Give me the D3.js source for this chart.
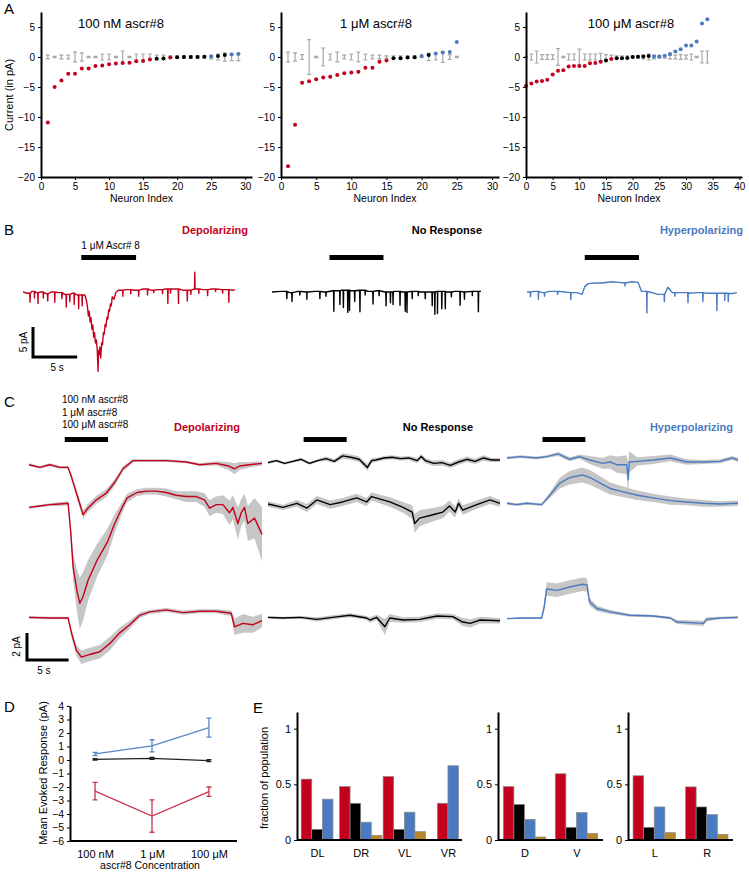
<!DOCTYPE html>
<html>
<head>
<meta charset="utf-8">
<script src="https://cdn.jsdelivr.net/npm/d3@7"></script>
<style>
  body { margin: 0; background: #fff; }
  svg { display: block; font-family: "Liberation Sans", Arial, sans-serif; }
</style>
</head>
<body>
<svg id="fig" width="749" height="873"></svg>
<script>
// ---- Panel A: sorted responses per neuron (d = depolarizing, n = none, h = hyperpolarizing)
const a1Vals = [-10.9,-5.0,-3.9,-2.8,-2.8,-1.9,-1.9,-1.5,-1.4,-1.2,-1.1,-1.0,-0.95,-0.7,-0.65,-0.4,-0.3,-0.25,-0.1,-0.05,0,0,0,0.05,0.1,0.15,0.35,0.4,0.5];
const a1Cls  = "ddddddddddddddddnndnnnnnhnnhh".split("");
const a1Err  = [0.3,0.1,0.3,0.3,0.8,0.7,0.1,0.1,0.5,0.5,0.1,1.0,0.1,0.5,0.5,0.5,0.3,0.3,0.2,0.2,0.2,0.2,0.2,0.2,0.3,0.5,0.7,0.6,0.6];

const a2Vals = [-18.2,-11.3,-4.3,-4.05,-3.7,-3.4,-3.3,-3.0,-2.7,-2.6,-2.45,-1.8,-1.8,-0.8,-0.6,-0.2,-0.2,-0.1,-0.05,0.15,0.35,0.6,0.75,0.85,2.5];
const a2Cls  = "dddddddddddddddnnnnhnhhhh".split("");
const a2Err  = [0.8,0.7,0.4,2.9,0.1,1.5,0.5,0.8,0.3,0.5,0.8,0.5,0.3,0.3,0.2,0.2,0.2,0.2,0.2,0.1,0.6,0.5,0.9,0.4,0.1];

const a3Vals = [-4.8,-4.4,-4.1,-4.0,-3.8,-2.9,-2.3,-2.2,-1.6,-1.5,-1.5,-1.5,-1.05,-1.0,-0.8,-0.6,-0.35,-0.2,-0.2,-0.15,0,0.05,0.1,0.15,0.1,0.1,0.2,0.5,0.9,1.3,1.9,1.9,2.6,5.6,6.3];
const a3Cls  = "dddddddddddddddndnnnnnnnhhhhhhhhhhh".split("");
const a3Err  = [0.1,0.5,1.0,0.4,0.4,0.4,1.4,0.1,0.5,0.5,1.3,0.5,0.5,0.5,0.6,0.4,0.3,0.2,0.2,0.2,0.2,0.2,0.3,0.5,0.3,0.2,0.2,0.3,0.3,0.4,0.3,0.5,0.1,1.0,1.0];

const aTitles = ["100 nM ascr#8", "1 μM ascr#8", "100 μM ascr#8"];
const aYTicks = [5, 0, -5, -10, -15, -20];

// ---- Panel B: example recordings, [time s, current pA]; spikes are [time, offset from baseline]
const bRedBase = [[0,0],[0.5,-0.2],[1.0,0.1],[1.5,-0.1],[2.0,0],[2.6,-0.3],[3.2,0],[4.0,-0.1],[4.7,-0.4],[5.6,-0.2],[6.1,-0.5],[7.0,-0.5],
  [7.2,-1.5],[7.3,-2.5],[7.4,-4.0],[7.5,-3.2],[7.6,-5.0],[7.7,-4.3],[7.8,-6.2],[7.9,-5.5],[8.0,-7.5],[8.1,-6.8],[8.2,-8.5],[8.3,-8.0],
  [8.4,-9.5],[8.5,-13.2],[8.55,-9.8],[8.6,-10.5],[8.7,-9.2],[8.8,-11.0],[8.9,-8.5],[9.0,-8.8],[9.1,-6.8],[9.2,-7.0],[9.3,-5.4],[9.4,-5.8],
  [9.5,-4.2],[9.6,-4.5],[9.7,-3.0],[9.8,-3.2],[9.9,-2.0],[10.0,-2.3],[10.1,-0.8],[10.3,-1.2],[10.5,-0.1],[10.8,0.3],[11.7,0.4],[12.6,0.3],
  [13.6,0.5],[14.5,0.3],[15.3,0.4],[16.1,0.5],[17.2,0.5],[18.1,0.3],[19.4,0.5],[20.4,0.4],[21.4,0.5],[22.5,0.4],[23.7,0.3],[24,0.35]];
const bRedSpikes = [[0.8,-1.5],[1.3,-1.1],[1.7,-1.8],[2.3,-1.0],[2.8,-1.2],[3.6,-1.7],[4.4,-1.0],[4.9,-2.1],[5.3,-1.2],[5.8,-1.9],[6.3,-2.3],[6.7,-1.8],
  [11.3,-1.0],[12.2,-0.7],[13.1,-1.0],[14.1,-1.0],[14.8,-0.4],[15.8,-0.7],[16.4,-2.4],[16.7,-0.7],[17.6,-2.4],[18.6,-1.8],[19.0,-0.7],
  [19.45,2.8],[19.9,-0.7],[20.9,-1.0],[21.8,-0.4],[22.6,-0.6],[23.3,-2.1]];

const bBlackBase = [[0,0],[1,0.1],[2,-0.1],[3,0.1],[4,0],[5,0.1],[6,0],[7,0.2],[8,0.3],[9,0.2],[10,0.3],[11,0.1],[12,0.2],[13,0],
  [14,0.1],[15,0],[16,0.1],[17,0],[18,0],[19,0.1],[20,0],[21,0.1],[22,0],[23,0.1],[24,0.1]];
const bBlackSpikes = [[1.7,-1.2],[2.3,-1.5],[3.2,-0.6],[4.0,-1.2],[5.5,-1.2],[6.2,-0.7],[7.1,-3.4],[7.8,-2.3],[8.2,-2.9],[8.7,-3.7],[8.9,-3.4],
  [9.5,-1.8],[10.1,-3.6],[10.7,-0.8],[11.6,-2.1],[12.3,-0.8],[13.1,-2.3],[13.6,-1.8],[13.9,-2.1],[14.7,-2.3],[15.3,-3.2],[15.5,-3.4],
  [16.1,-1.2],[16.8,-0.7],[17.6,-1.1],[18.4,-2.3],[18.7,-3.7],[19.0,-3.7],[19.5,-2.9],[19.9,-2.9],[20.6,-0.8],[21.6,-2.3],[22.1,-1.2],
  [23.0,-0.7],[23.7,-3.4]];

const bBlueBase = [[0,0],[0.8,0.1],[1.8,-0.1],[2.5,0.1],[3.2,0.1],[4.3,0],[5.0,-0.1],[5.7,-0.1],[6.3,-0.4],[6.6,0.9],[7.0,1.4],[7.8,1.5],
  [8.6,1.5],[9.7,1.7],[10.5,1.6],[11.2,1.5],[12.0,1.7],[12.7,1.6],[13.1,0.1],[14.0,0],[15.0,-0.4],[16.1,0.8],[16.6,-0.1],[17.5,-0.1],
  [18.5,-0.2],[19.5,-0.1],[20.5,-0.2],[21.5,-0.2],[22.6,-0.2],[23.3,-0.3],[24,-0.1]];
const bBlueSpikes = [[0.4,-0.8],[1.3,-1.3],[2.0,-0.6],[3.5,-0.5],[5.0,-1.2],[11.2,-0.5],[13.7,-3.6],[15.7,-1.2],[16.9,-0.6],[18.4,-1.7],
  [20.1,-1.5],[21.7,-2.9],[22.6,-1.2],[23.0,-1.4]];
const bStim = [6.6, 12.8];

// ---- Panel C: mean traces [time s, mean pA, sem pA]; rows = 100 nM, 1 μM, 100 μM
const cRed1 = [[0,-0.2,0.1],[1.3,-0.4,0.1],[2.5,-0.2,0.1],[3.7,-0.4,0.1],[4.7,-0.4,0.1],[5.1,-1.1,0.2],[5.7,-2.3,0.3],[6.5,-3.9,0.3],
  [7.1,-3.4,0.3],[8.1,-2.8,0.3],[9.3,-2.3,0.3],[10.3,-1.5,0.25],[11.3,-0.5,0.2],[12.5,0.1,0.1],[14.5,0.1,0.1],[16.5,0.1,0.1],
  [18.9,0,0.1],[20.5,-0.2,0.1],[22.5,-0.1,0.15],[24.0,-0.3,0.3],[24.7,-0.5,0.4],[25.3,-0.3,0.3],[26.5,-0.2,0.2],[28,-0.1,0.15]];
const cRed2 = [[0,-0.1,0.1],[1.3,0,0.1],[2.5,0.1,0.1],[3.7,0.15,0.15],[4.7,0.2,0.15],[5.0,-1.8,0.5],[5.3,-4.5,1.0],[5.8,-6.4,1.6],
  [6.1,-7.2,1.9],[6.5,-6.7,1.8],[7.1,-5.5,1.5],[8.2,-4.0,1.2],[9.4,-2.7,1.0],[10.3,-1.3,0.7],[11.2,-0.1,0.4],[11.8,0.6,0.3],
  [13,1.0,0.25],[14.1,1.1,0.25],[15.3,1.1,0.25],[16.5,1.0,0.3],[17.7,0.8,0.3],[18.9,0.7,0.4],[20.1,0.7,0.4],[21.1,0.45,0.5],
  [21.7,-0.15,0.6],[22.5,0.1,0.6],[23.3,0.1,0.7],[24.1,-0.5,0.9],[24.5,-0.1,0.9],[25.1,-1.3,1.2],[25.5,-0.5,1.0],[25.9,-0.1,1.0],
  [26.3,-1.3,1.3],[27.1,-0.9,1.5],[28,-2.1,2.0]];
const cRed3 = [[0,0.05,0.1],[2.5,0,0.1],[4.7,0,0.1],[5.1,-1.1,0.3],[5.7,-2.4,0.4],[6.3,-2.9,0.5],[7.3,-2.7,0.5],[8.5,-2.5,0.5],
  [9.7,-1.9,0.5],[10.9,-1.1,0.4],[12.1,-0.5,0.3],[13.3,0.2,0.2],[14.5,0.45,0.15],[16.5,0.6,0.15],[18.5,0.4,0.15],[20.5,0.5,0.15],
  [22.5,0.5,0.15],[24.3,0.35,0.2],[24.7,-0.65,0.6],[25.7,-0.4,0.7],[26.9,-0.5,0.6],[28,-0.2,0.5]];

const cBlack1 = [[0,-0.05,0.1],[1,0.1,0.1],[2,-0.1,0.1],[3,0.05,0.1],[4,0.2,0.1],[5,-0.1,0.1],[6,0.1,0.1],[7,0.25,0.15],[8,0.05,0.15],
  [9,0.45,0.2],[10,0.35,0.2],[11,0.2,0.2],[12,-0.4,0.25],[12.5,0.1,0.2],[13,0.15,0.15],[14,0.3,0.15],[15,0.35,0.15],[16,0.25,0.15],
  [17,0.3,0.15],[18,0.1,0.2],[18.5,0.4,0.2],[19,0.1,0.2],[20,-0.1,0.2],[21,-0.05,0.2],[22,-0.25,0.2],[23,0,0.2],[24,0.2,0.2],
  [25,0.05,0.2],[26,0.3,0.2],[27,0.15,0.15],[28,0.15,0.15]];
const cBlack2 = [[0,0.15,0.2],[1.8,-0.1,0.2],[3.5,0.2,0.25],[4.7,-0.15,0.3],[5.9,0.45,0.3],[7.5,0.1,0.3],[9,0.3,0.3],[10.7,0.6,0.3],
  [11.9,0.3,0.3],[12.5,0.7,0.3],[14.7,0.3,0.35],[16.3,-0.1,0.4],[17.4,-0.45,0.5],[17.7,-1.3,0.7],[18.3,-0.9,0.6],[19.9,-0.65,0.5],
  [21.1,-0.45,0.45],[21.9,0,0.4],[22.6,-0.45,0.4],[23.0,0.2,0.35],[23.5,-0.3,0.35],[25.2,0.1,0.3],[26.8,0.45,0.3],[28,0.2,0.25]];
const cBlack3 = [[0,0.05,0.1],[1.8,0,0.1],[3.9,0.05,0.1],[5.9,-0.1,0.15],[7.8,0.05,0.15],[9.9,0.2,0.15],[11.9,0,0.15],[12.3,-0.15,0.2],
  [13.1,0.05,0.2],[14.1,-0.65,0.6],[14.7,0,0.3],[16.3,-0.15,0.2],[18.3,-0.1,0.2],[20.4,0.15,0.2],[22.3,0.1,0.2],[23.5,-0.3,0.3],
  [24.4,-0.4,0.3],[25.6,-0.15,0.25],[28,-0.2,0.2]];

const cBlue1 = [[0,0.3,0.1],[1.6,0.4,0.1],[3.6,0.3,0.1],[4.8,0.4,0.1],[6.2,0.6,0.15],[7.6,0.2,0.15],[8.8,0.4,0.15],[10,0.15,0.3],
  [11.6,-0.1,0.4],[12.5,0,0.5],[13.3,-0.2,0.6],[14.5,-0.2,0.7],[14.7,-1.3,1.2],[14.8,0,0.8],[15.8,0.05,0.3],[17.7,0.15,0.3],
  [19.8,0.3,0.25],[21.8,0,0.2],[23.8,0,0.15],[25.8,0.05,0.15],[27.3,0.3,0.15],[28,0.15,0.15]];
const cBlue2 = [[0,0.2,0.1],[1.2,0.1,0.1],[2.4,0.2,0.1],[4.2,0.1,0.1],[5.2,0.8,0.2],[6.4,1.7,0.4],[7.6,2.1,0.5],[9.1,2.3,0.55],
  [10.1,2.1,0.55],[11.3,1.7,0.5],[12.5,1.3,0.45],[14.1,1.05,0.4],[15.8,0.8,0.35],[17.7,0.6,0.3],[19.8,0.4,0.3],[21.8,0.3,0.25],
  [23.8,0.2,0.25],[25.8,0.15,0.2],[28,0.2,0.2]];
const cBlue3 = [[0,-0.05,0.05],[1.9,0,0.05],[4.2,0,0.05],[4.5,0.8,0.3],[4.8,2.15,0.5],[6.1,2.05,0.5],[7.6,2.3,0.5],[9.2,2.5,0.5],
  [9.7,2.45,0.5],[10,1.2,0.3],[10.9,0.7,0.2],[12.5,0.45,0.15],[14.9,0.2,0.1],[17.7,0.15,0.1],[19.8,0,0.1],[20.6,-0.3,0.15],
  [23.8,-0.4,0.2],[24.2,-0.1,0.15],[25.8,0,0.1],[28,0.05,0.1]];
const cStim = [4.3, 9.5];
const cLegend = ["100 nM ascr#8", "1 μM ascr#8", "100 μM ascr#8"];

// ---- Panel D: mean evoked response
const dCats = ["100 nM", "1 μM", "100 μM"];
const dHypMean = [0.45, 1.05, 2.4],   dHypErr = [0.12, 0.45, 0.7];
const dNoneMean = [0.05, 0.12, -0.05], dNoneErr = [0.05, 0.07, 0.07];
const dDepMean = [-2.3, -4.15, -2.35], dDepErr = [0.65, 1.2, 0.35];

// ---- Panel E: fraction of population (depolarizing, none, hyperpolarizing, other)
const e1Groups = ["DL", "DR", "VL", "VR"];
const e1Dep = [0.547, 0.48, 0.57, 0.33], e1None = [0.096, 0.33, 0.096, 0], e1Hyp = [0.367, 0.16, 0.25, 0.667], e1Other = [0, 0.042, 0.075, 0];
const e2Groups = ["D", "V"];
const e2Dep = [0.48, 0.595], e2None = [0.32, 0.114], e2Hyp = [0.186, 0.246], e2Other = [0.027, 0.06];
const e3Groups = ["L", "R"];
const e3Dep = [0.577, 0.477], e3None = [0.114, 0.297], e3Hyp = [0.297, 0.228], e3Other = [0.066, 0.051];
const eYTicks = [0, 0.5, 1];

// ---------------------------------------------------------------
const RED = "#c3001d", BLUE = "#4a7ac2", BLACK = "#000", GOLD = "#b5872c", GREY = "#a8a8a8", BAND = "#c6c6c6";
const clsColor = { d: RED, n: BLACK, h: BLUE };

const svg = d3.select("#fig");
svg.append("rect").attr("width", 749).attr("height", 873).attr("fill", "#fff");

function letter(t, x, y) {
  svg.append("text").attr("x", x).attr("y", y).attr("font-size", 15).text(t);
}
function styleAxis(g, fs) {
  g.attr("font-family", null).attr("font-size", fs);
  g.select(".domain").attr("stroke-width", 2);
  g.selectAll(".tick line").attr("stroke-width", 1);
}

// ============ A ============
letter("A", 4, 14);
const aY = d3.scaleLinear().domain([-20, 7.5]).range([177, 12]);
const aPlots = [
  { vals: a1Vals, cls: a1Cls, err: a1Err, start: 1, dom: [0, 31], rng: [41, 252], ticks: d3.range(0, 31, 5) },
  { vals: a2Vals, cls: a2Cls, err: a2Err, start: 1, dom: [0, 31], rng: [281, 499], ticks: d3.range(0, 31, 5) },
  { vals: a3Vals, cls: a3Cls, err: a3Err, start: 0, dom: [0, 40.5], rng: [526, 742], ticks: d3.range(0, 41, 5) }
];
aPlots.forEach((p, k) => {
  const x = d3.scaleLinear().domain(p.dom).range(p.rng);
  const g = svg.append("g");

  g.selectAll("path.eb").data(p.err).join("path")
    .attr("class", "eb")
    .attr("d", (e, i) => {
      const cx = x(i + p.start), y0 = aY(-e), y1 = aY(e);
      return `M${cx - 2},${y0}H${cx + 2}M${cx},${y0}V${y1}M${cx - 2},${y1}H${cx + 2}`;
    })
    .attr("stroke", GREY).attr("stroke-width", 1.2).attr("fill", "none");

  g.selectAll("circle").data(p.vals).join("circle")
    .attr("cx", (v, i) => x(i + p.start))
    .attr("cy", v => aY(v))
    .attr("r", 2)
    .attr("fill", (v, i) => clsColor[p.cls[i]]);

  const ya = g.append("g").attr("transform", `translate(${p.rng[0]},0)`)
    .call(d3.axisLeft(aY).tickValues(aYTicks).tickSize(3).tickSizeOuter(0));
  styleAxis(ya, 10);
  const xa = g.append("g").attr("transform", `translate(0,${aY(-20)})`)
    .call(d3.axisBottom(x).tickValues(p.ticks).tickSize(3).tickSizeOuter(0));
  styleAxis(xa, 10);

  g.append("text").attr("x", (p.rng[0] + p.rng[1]) / 2 - 5).attr("y", 202)
    .attr("text-anchor", "middle").attr("font-size", 10.5).text("Neuron Index");
  g.append("text").attr("x", [121, 376, 631][k]).attr("y", 28)
    .attr("text-anchor", "middle").attr("font-size", 13).text(aTitles[k]);
});
svg.append("text").attr("transform", "translate(13,95) rotate(-90)")
  .attr("text-anchor", "middle").attr("font-size", 11).text("Current (in pA)");

// ============ B ============
letter("B", 4, 235);
function withSpikes(base, spikes) {
  const pts = base.map(d => [d[0], d[1]]);
  spikes.forEach(([t, dv]) => {
    const prev = base.filter(d => d[0] <= t).pop();
    const b = prev ? prev[1] : base[0][1];
    pts.push([t - 0.03, b], [t, b + dv], [t + 0.03, b]);
  });
  return pts.sort((a, b) => a[0] - b[0]);
}
const bY = d3.scaleLinear().domain([0, 5]).range([292, 262]);
const bCols = [
  { base: bRedBase, spikes: bRedSpikes, color: RED, rng: [23, 235], title: "Depolarizing", tx: 248 },
  { base: bBlackBase, spikes: bBlackSpikes, color: BLACK, rng: [272, 481], title: "No Response", tx: 482 },
  { base: bBlueBase, spikes: bBlueSpikes, color: BLUE, rng: [527, 737], title: "Hyperpolarizing", tx: 743 }
];
bCols.forEach(c => {
  const x = d3.scaleLinear().domain([0, 24]).range(c.rng);
  c.x = x;
  svg.append("path").datum(withSpikes(c.base, c.spikes))
    .attr("d", d3.line().x(d => x(d[0])).y(d => bY(d[1])))
    .attr("fill", "none").attr("stroke", c.color).attr("stroke-width", 1.4).attr("stroke-linejoin", "round");
  svg.append("rect").attr("x", x(bStim[0])).attr("width", x(bStim[1]) - x(bStim[0]))
    .attr("y", 255).attr("height", 5).attr("fill", BLACK);
  svg.append("text").attr("x", c.tx).attr("y", 234).attr("text-anchor", "end")
    .attr("font-size", 11).attr("font-weight", "bold").attr("fill", c.color).text(c.title);
});
svg.append("text").attr("x", bCols[0].x(bStim[0])).attr("y", 249).attr("font-size", 10).text("1 μM Ascr# 8");
{
  const sx = 33, sy = 357, h = bY(0) - bY(5), w = bCols[0].x(5) - bCols[0].x(0);
  svg.append("path").attr("d", `M${sx},${sy - h}V${sy}H${sx + w}`)
    .attr("fill", "none").attr("stroke", BLACK).attr("stroke-width", 3);
  svg.append("text").attr("transform", `translate(27,${sy - h / 2}) rotate(-90)`)
    .attr("text-anchor", "middle").attr("font-size", 10).text("5 pA");
  svg.append("text").attr("x", sx + w / 2 + 2).attr("y", sy + 14)
    .attr("text-anchor", "middle").attr("font-size", 10).text("5 s");
}

// ============ C ============
letter("C", 4, 407);
const cRowBase = [462, 506, 618];
const cCols = [
  { rows: [cRed1, cRed2, cRed3], color: RED, rng: [29, 262], title: "Depolarizing", tx: 240 },
  { rows: [cBlack1, cBlack2, cBlack3], color: BLACK, rng: [268, 500], title: "No Response", tx: 473 },
  { rows: [cBlue1, cBlue2, cBlue3], color: BLUE, rng: [507, 738], title: "Hyperpolarizing", tx: 733 }
];
cCols.forEach(c => {
  const x = d3.scaleLinear().domain([0, 28]).range(c.rng);
  c.x = x;
  c.rows.forEach((tr, r) => {
    const y = d3.scaleLinear().domain([0, 2]).range([cRowBase[r], cRowBase[r] - 27]);
    svg.append("path").datum(tr)
      .attr("d", d3.area().x(d => x(d[0])).y0(d => y(d[1] - d[2])).y1(d => y(d[1] + d[2])))
      .attr("fill", BAND);
    svg.append("path").datum(tr)
      .attr("d", d3.line().x(d => x(d[0])).y(d => y(d[1])))
      .attr("fill", "none").attr("stroke", c.color).attr("stroke-width", 1.4).attr("stroke-linejoin", "round");
  });
  svg.append("rect").attr("x", x(cStim[0])).attr("width", x(cStim[1]) - x(cStim[0]))
    .attr("y", 437).attr("height", 5).attr("fill", BLACK);
  svg.append("text").attr("x", c.tx).attr("y", 431).attr("text-anchor", "end")
    .attr("font-size", 11).attr("font-weight", "bold").attr("fill", c.color).text(c.title);
});
svg.append("g").selectAll("text").data(cLegend).join("text")
  .attr("x", 62).attr("y", (d, i) => 403 + i * 12.5).attr("font-size", 10).text(d => d);
{
  const sx = 27, sy = 660, y = d3.scaleLinear().domain([0, 2]).range([0, 27]);
  const w = cCols[0].x(5) - cCols[0].x(0), h = y(2);
  svg.append("path").attr("d", `M${sx},${sy - h}V${sy}H${sx + w}`)
    .attr("fill", "none").attr("stroke", BLACK).attr("stroke-width", 3);
  svg.append("text").attr("transform", `translate(20,${sy - h / 2}) rotate(-90)`)
    .attr("text-anchor", "middle").attr("font-size", 10).text("2 pA");
  svg.append("text").attr("x", sx + w / 2 - 4).attr("y", sy + 14)
    .attr("text-anchor", "middle").attr("font-size", 10).text("5 s");
}

// ============ D ============
letter("D", 4, 712);
const dY = d3.scaleLinear().domain([-6, 4]).range([841, 706]);
const dX = d3.scalePoint().domain(dCats).range([70, 234]).padding(0.44);
const dSeries = [
  { m: dHypMean, e: dHypErr, color: "#5b86c6" },
  { m: dNoneMean, e: dNoneErr, color: "#222" },
  { m: dDepMean, e: dDepErr, color: "#c8354c" }
];
dSeries.forEach(s => {
  const pts = dCats.map((c, i) => ({ c, m: s.m[i], e: s.e[i] }));
  svg.append("path").datum(pts)
    .attr("d", d3.line().x(d => dX(d.c)).y(d => dY(d.m)))
    .attr("fill", "none").attr("stroke", s.color).attr("stroke-width", 1.4);
  svg.append("g").selectAll("path").data(pts).join("path")
    .attr("d", d => {
      const cx = dX(d.c), y0 = dY(d.m - d.e), y1 = dY(d.m + d.e);
      return `M${cx - 2.5},${y0}H${cx + 2.5}M${cx},${y0}V${y1}M${cx - 2.5},${y1}H${cx + 2.5}`;
    })
    .attr("fill", "none").attr("stroke", s.color).attr("stroke-width", 1.3);
});
{
  const ya = svg.append("g").attr("transform", "translate(70,0)")
    .call(d3.axisLeft(dY).tickValues(d3.range(-6, 5)).tickSize(3).tickSizeOuter(0));
  styleAxis(ya, 10.5);
  const xa = svg.append("g").attr("transform", `translate(0,${dY(-6)})`)
    .call(d3.axisBottom(dX).tickSize(0).tickPadding(9));
  styleAxis(xa, 11);
  xa.select(".domain").attr("d", "M70,0H237");
  svg.append("text").attr("transform", "translate(47,773) rotate(-90)")
    .attr("text-anchor", "middle").attr("font-size", 11).text("Mean Evoked Response (pA)");
  svg.append("text").attr("x", 150).attr("y", 869)
    .attr("text-anchor", "middle").attr("font-size", 10.5).text("ascr#8 Concentration");
}

// ============ E ============
letter("E", 253, 713);
const eY = d3.scaleLinear().domain([0, 1.15]).range([840, 712]);
const eColors = [RED, BLACK, BLUE, GOLD];
const ePlots = [
  { groups: e1Groups, series: [e1Dep, e1None, e1Hyp, e1Other], rng: [297, 468], axEnd: 462, pad: 0.46 },
  { groups: e2Groups, series: [e2Dep, e2None, e2Hyp, e2Other], rng: [498, 603], axEnd: 603, pad: 0.51 },
  { groups: e3Groups, series: [e3Dep, e3None, e3Hyp, e3Other], rng: [628, 733], axEnd: 733, pad: 0.5 }
];
const barW = 10.6;
ePlots.forEach(p => {
  const x = d3.scalePoint().domain(p.groups).range(p.rng).padding(p.pad);
  const bars = [];
  p.groups.forEach((gname, gi) => {
    const present = p.series.map((s, si) => ({ si, v: s[gi] })).filter(d => d.v > 0);
    present.forEach((d, j) => {
      bars.push({ x: x(gname) + (j - (present.length - 1) / 2) * barW - barW / 2, v: d.v, color: eColors[d.si] });
    });
  });
  svg.append("g").selectAll("rect").data(bars).join("rect")
    .attr("x", d => d.x).attr("width", barW)
    .attr("y", d => eY(d.v)).attr("height", d => eY(0) - eY(d.v))
    .attr("fill", d => d.color).attr("stroke", "#8a8a8a").attr("stroke-width", 0.7);

  const ya = svg.append("g").attr("transform", `translate(${p.rng[0]},0)`)
    .call(d3.axisLeft(eY).tickValues(eYTicks).tickFormat(d => String(d)).tickSize(3).tickSizeOuter(0));
  styleAxis(ya, 11);
  const xa = svg.append("g").attr("transform", `translate(0,${eY(0)})`)
    .call(d3.axisBottom(x).tickSize(0).tickPadding(9));
  styleAxis(xa, 11);
  xa.select(".domain").attr("d", `M${p.rng[0]},0H${p.axEnd}`);
});
svg.append("text").attr("transform", "translate(268,778) rotate(-90)")
  .attr("text-anchor", "middle").attr("font-size", 11).text("fraction of population");
</script>
</body>
</html>
